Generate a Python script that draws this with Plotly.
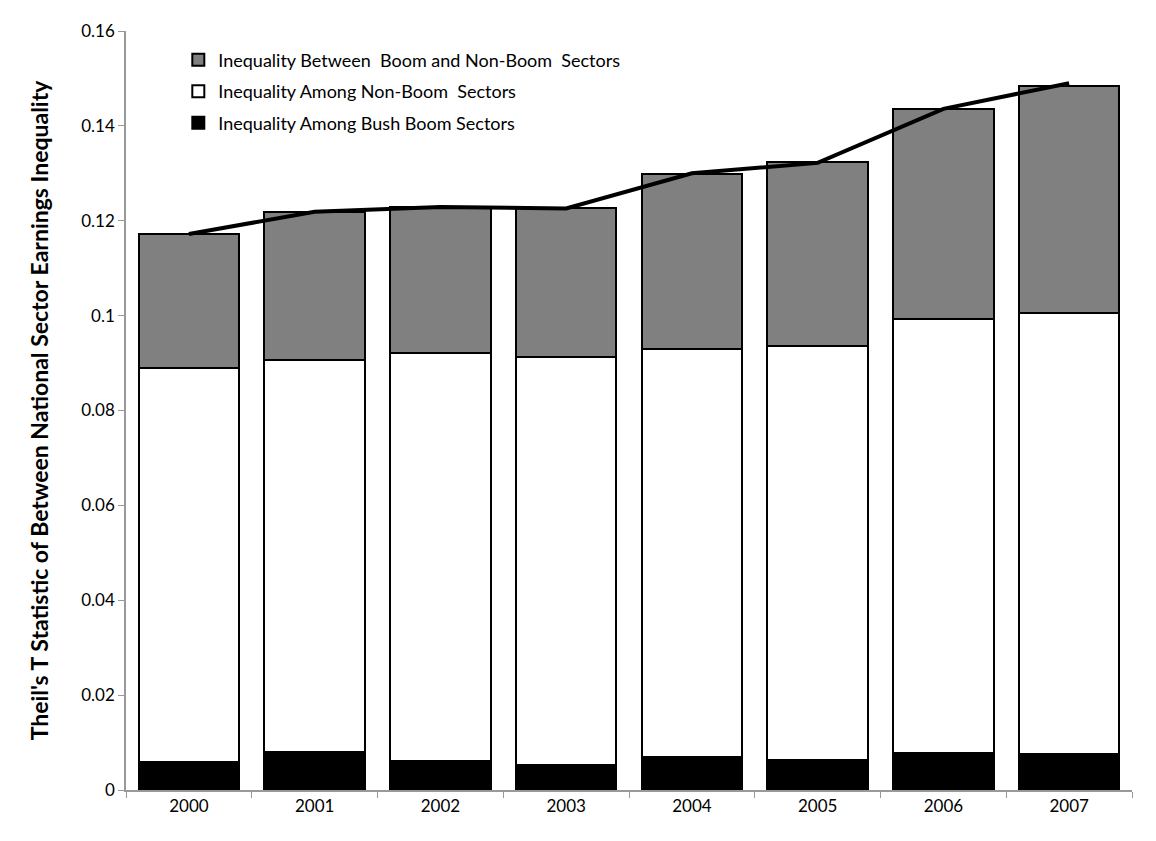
import plotly.graph_objects as go

years = ["2000", "2001", "2002", "2003", "2004", "2005", "2006", "2007"]
# cumulative tops
bush_boom = [0.0059, 0.0080, 0.0061, 0.0052, 0.0069, 0.0063, 0.0078, 0.0075]
top_non_boom = [0.0889, 0.0906, 0.0922, 0.0912, 0.0929, 0.0935, 0.0993, 0.1005]
top_between = [0.1173, 0.1219, 0.1228, 0.1226, 0.1299, 0.1324, 0.1435, 0.1485]
total_line = [0.1172, 0.1219, 0.1229, 0.1226, 0.1300, 0.1322, 0.1436, 0.1490]

non_boom = [t - b for t, b in zip(top_non_boom, bush_boom)]
between = [t - w for t, w in zip(top_between, top_non_boom)]

FONT = "Lato"

fig = go.Figure()
fig.add_trace(go.Bar(x=years, y=bush_boom, name="Inequality Among Bush Boom Sectors",
                     marker=dict(color="#000000", line=dict(color="#000000", width=2)),
                     legendrank=3, legendgroup="c"))
fig.add_trace(go.Bar(x=years, y=non_boom, name="Inequality Among Non-Boom  Sectors",
                     marker=dict(color="#ffffff", line=dict(color="#000000", width=2)),
                     legendrank=2, legendgroup="b"))
fig.add_trace(go.Bar(x=years, y=between, name="Inequality Between  Boom and Non-Boom  Sectors",
                     marker=dict(color="#808080", line=dict(color="#000000", width=2)),
                     legendrank=1, legendgroup="a"))
fig.add_trace(go.Scatter(x=years, y=total_line, mode="lines",
                         line=dict(color="#000000", width=4), showlegend=False))

fig.update_layout(
    width=1148, height=833,
    barmode="stack", bargap=0.2,
    paper_bgcolor="white", plot_bgcolor="white",
    margin=dict(l=118, r=24, t=17, b=51),
    font=dict(family=FONT, color="#000000", size=15),
    legend=dict(x=0.052, y=0.986, xanchor="left", yanchor="top",
                font=dict(family=FONT, size=18), bgcolor="rgba(0,0,0,0)",
                tracegroupgap=5, itemwidth=30),
    showlegend=True,
)
fig.update_xaxes(showline=True, linecolor="#999999", linewidth=1.5,
                 ticks="outside", tickson="boundaries", ticklen=6, tickcolor="#999999",
                 tickfont=dict(family=FONT, size=17), showgrid=False)
fig.update_yaxes(range=[0, 0.16], dtick=0.02, showline=True, linecolor="#999999", linewidth=1.5,
                 ticks="outside", ticklen=6, tickcolor="#999999", showgrid=False,
                 zeroline=False, tickformat="~g",
                 tickfont=dict(family=FONT, size=17),
                 title=dict(text="<b>Theil's T Statistic of Between National Sector Earnings Inequality</b>",
                            font=dict(family=FONT, size=23), standoff=26))

fig.write_html("out.html")
